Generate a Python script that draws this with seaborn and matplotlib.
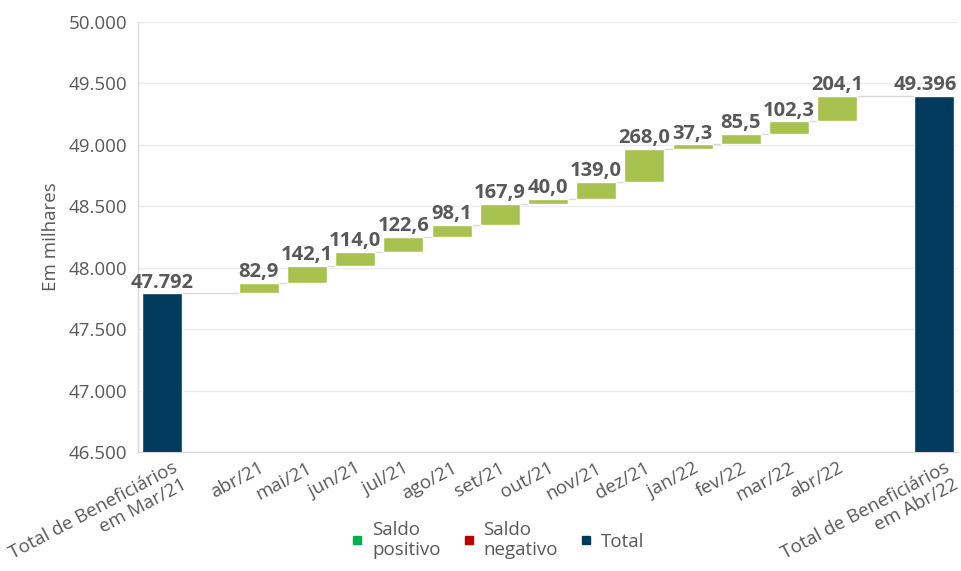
import numpy as np
import pandas as pd
import seaborn as sns
import matplotlib.pyplot as plt
import matplotlib.transforms as mtransforms
from matplotlib.lines import Line2D

# Data (em milhares)
start_label = 'Total de Beneficiários\nem Mar/21'
end_label = 'Total de Beneficiários\nem Abr/22'
months = ['abr/21', 'mai/21', 'jun/21', 'jul/21', 'ago/21', 'set/21', 'out/21',
          'nov/21', 'dez/21', 'jan/22', 'fev/22', 'mar/22', 'abr/22']
saldo = [82.9, 142.1, 114.0, 122.6, 98.1, 167.9, 40.0, 139.0, 268.0, 37.3, 85.5, 102.3, 204.1]
total_start = 47792
total_end = 49396
yticks = [46500, 47000, 47500, 48000, 48500, 49000, 49500, 50000]

green = '#A9C24F'
navy = '#003A5D'
gray_txt = '#595959'
line_gray = '#D9D9D9'

# category order with empty slots around the months
order = [start_label, ' '] + months + ['  ', end_label]

steps = pd.DataFrame({'mes': months, 'saldo': saldo})
steps['base'] = total_start + steps['saldo'].cumsum() - steps['saldo']
steps['topo'] = steps['base'] + steps['saldo']

totals = pd.DataFrame({'mes': [start_label, end_label], 'valor': [total_start, total_end]})

sns.set_theme(style='white')
plt.rcParams['font.family'] = ['Open Sans', 'DejaVu Sans']

fig = plt.figure(figsize=(9.62, 5.71), dpi=100)
ax = fig.add_axes([138 / 962, 1 - 452 / 571, (958 - 138) / 962, (452 - 22) / 571])

sns.barplot(data=totals, x='mes', y='valor', order=order, color=navy,
            saturation=1, width=0.83, errorbar=None, ax=ax, zorder=3)
sns.barplot(data=steps, x='mes', y='saldo', order=order, color=green,
            saturation=1, width=0.83, errorbar=None, ax=ax, zorder=3,
            bottom=steps['base'].values)

ax.set_ylim(46500, 50000)
ax.set_xlim(-0.5, len(order) - 0.5)
ax.set_yticks(yticks)
ax.set_yticklabels([f'{v:,}'.replace(',', '.') for v in yticks])
ax.yaxis.grid(True, color='#EBEBEB', lw=1, zorder=0)
ax.set_axisbelow(True)

# connector lines between bars
pos = {lab: i for i, lab in enumerate(order)}
levels = [total_start] + list(steps['topo'])
names = [start_label] + months + [end_label]
for a, b, lv in zip(names[:-1], names[1:], levels):
    ax.plot([pos[a] + 0.415, pos[b] - 0.415], [lv, lv], color=line_gray, lw=1, zorder=2)

# data labels
lab_kw = dict(va='bottom', fontsize=14.5, fontweight='bold', color=gray_txt, zorder=4)
ax.text(pos[start_label], total_start + 6, f'{total_start:,}'.replace(',', '.'), ha='center', **lab_kw)
ax.text(pos[end_label] + 0.48, total_end + 6, f'{total_end:,}'.replace(',', '.'), ha='right', **lab_kw)
for m, s, t in zip(steps['mes'], steps['saldo'], steps['topo']):
    ax.text(pos[m], t + 6, f'{s:.1f}'.replace('.', ','), ha='center', **lab_kw)

# axes styling
for side in ['top', 'right']:
    ax.spines[side].set_visible(False)
for side in ['left', 'bottom']:
    ax.spines[side].set_color(line_gray)
    ax.spines[side].set_linewidth(1)
ax.tick_params(axis='y', length=0, labelsize=13.5, labelcolor=gray_txt, pad=8)
ax.tick_params(axis='x', which='major', length=0, labelsize=13.5, labelcolor=gray_txt, pad=5)
ax.set_xticks(np.arange(1.5, 15, 1), minor=True)
ax.tick_params(axis='x', which='minor', direction='in', length=4, color=line_gray, width=1)

# rotated tick labels: long total labels get their second line as a separate text
rot = 28
ax.set_xticks(range(len(order)))
ax.set_xticklabels([lab.split('\n')[0] for lab in order])
plt.setp(ax.get_xticklabels(), rotation=rot, ha='right', va='top', rotation_mode='anchor')

pad_px = 5 * 100 / 72
shift = mtransforms.ScaledTranslation(10 / 100, 0, fig.dpi_scale_trans)
lh = 19
th = np.deg2rad(rot)
for lbl in ax.get_xticklabels():
    if lbl.get_text().startswith('Total'):
        lbl.set_transform(lbl.get_transform() + shift)
for lab in [start_label, end_label]:
    dx = (10 + lh * np.sin(th)) / 100
    dy = (-pad_px - lh * np.cos(th)) / 100
    tr = ax.get_xaxis_transform() + mtransforms.ScaledTranslation(dx, dy, fig.dpi_scale_trans)
    ax.text(pos[lab], 0, lab.split('\n')[1], transform=tr, rotation=rot, ha='right',
            va='top', rotation_mode='anchor', fontsize=13.5, color=gray_txt)

ax.set_xlabel('')
ax.set_ylabel('Em milhares', fontsize=13.5, color=gray_txt, labelpad=6)

# legend
handles = [
    Line2D([], [], marker='s', ls='', color='#00B050', markersize=6),
    Line2D([], [], marker='s', ls='', color='#C00000', markersize=6),
    Line2D([], [], marker='s', ls='', color=navy, markersize=6),
]
fig.legend(handles, ['Saldo\npositivo', 'Saldo\nnegativo', 'Total'], loc='center',
           bbox_to_anchor=(497 / 962, 1 - 540 / 571), ncol=3, frameon=False,
           fontsize=13.5, labelcolor=gray_txt, handletextpad=0.4, columnspacing=1.1,
           handlelength=0.8)

fig.savefig('out.png', dpi=100)
